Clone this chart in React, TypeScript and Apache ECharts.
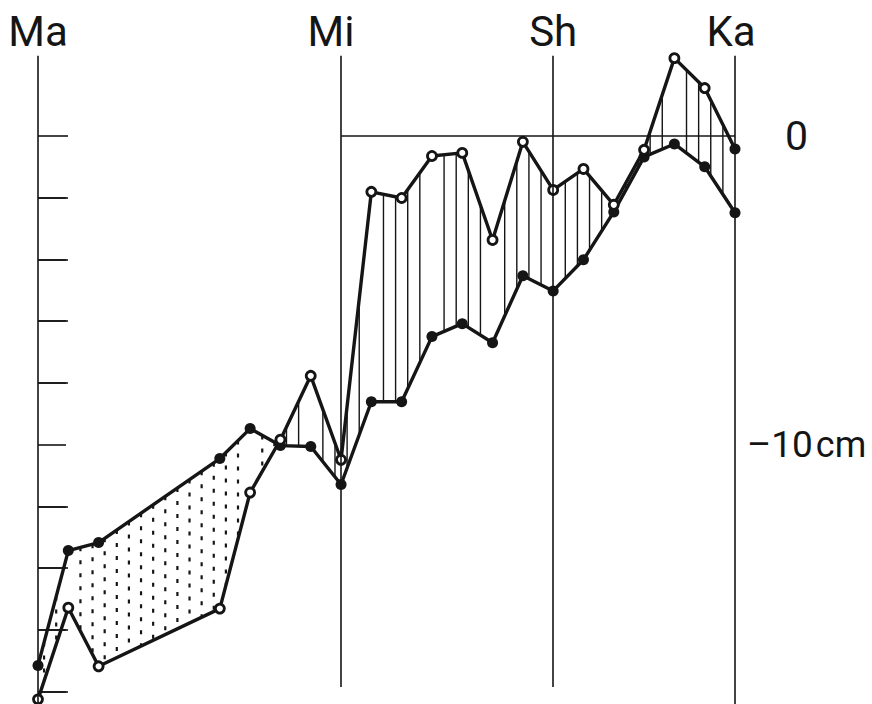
import React, { useEffect, useRef } from 'react';
import * as echarts from 'echarts';

// Stations (distance in station-spacing units along the profile)
const stationNames = ['Ma', 'Mi', 'Sh', 'Ka'];
const stationPos = [0, 10, 17, 23];
const stationLineBottom = [-18.4, -17.85, -17.85, -18.4];

// Benchmark positions and levels (cm)
const pointPos = [0, 1, 2, 6, 7, 8, 9, 10, 11, 12, 13, 14, 15, 16, 17, 18, 19, 20, 21, 22, 23];
const openLevels = [
  -18.25, -15.28, -17.18, -15.31, -11.55, -9.84, -7.77, -10.49, -1.81, -2.01, -0.65,
  -0.55, -3.37, -0.19, -1.75, -1.07, -2.23, -0.45, 2.52, 1.55, -0.42,
];
const filledLevels = [
  -17.15, -13.43, -13.17, -10.45, -9.48, -10.03, -10.06, -11.29, -8.61, -8.61, -6.5,
  -6.08, -6.7, -4.53, -5.02, -4.01, -2.46, -0.68, -0.26, -1.0, -2.49,
];

// Axis ticks and labels (cm)
const rightTickValues = [0, -2, -4, -6, -8, -12, -14, -16, -18];
const leftTickValues = [-2, -4, -6, -8, -10, -12, -14, -16, -18];
const labelValues = [0, -10];

const Y_MIN = -18.4;
const Y_MAX = 2.6;
const HATCH_STEP = 0.4;
const HATCH_OFFSET = 0.2;
const INK = '#151515';
const FONT = 'Roboto, "DejaVu Sans", sans-serif';

export default function App() {
  const ref = useRef<HTMLDivElement>(null);

  useEffect(() => {
    if (!ref.current) return;
    document.documentElement.style.overflow = 'hidden';
    document.body.style.margin = '0';
    document.body.style.overflow = 'hidden';
    const chart = echarts.init(ref.current, undefined, { renderer: 'svg', width: 872, height: 704 });

    const segments = pointPos.slice(0, -1).map((x, i) => [x, openLevels[i]]);

    const option: any = {
      animation: false,
      backgroundColor: '#ffffff',
      grid: { left: 38, right: 137, top: 55.66, bottom: 0, outerBoundsMode: 'none', containLabel: false },
      xAxis: {
        type: 'value',
        min: 0,
        max: 23,
        show: false,
      },
      yAxis: [
        {
          type: 'value',
          position: 'right',
          min: Y_MIN,
          max: Y_MAX,
          axisLine: { show: false },
          splitLine: { show: false },
          axisTick: {
            show: true,
            customValues: rightTickValues,
            length: 30,
            lineStyle: { color: INK, width: 1.6 },
          },
          axisLabel: {
            show: true,
            customValues: labelValues,
            margin: 12,
            color: INK,
            fontFamily: FONT,
            fontSize: 40,
            formatter: (v: number) => (v === 0 ? '{z|0}' : '{a|–10}{b|cm}'),
            rich: {
              z: { fontSize: 41, fontFamily: FONT, color: INK, padding: [0, 0, 0, 38] },
              a: { fontSize: 37, fontFamily: FONT, color: INK },
              b: { fontSize: 36, fontFamily: FONT, color: INK, padding: [0, 0, 0, 3] },
            },
          },
        },
        {
          type: 'value',
          position: 'left',
          min: Y_MIN,
          max: Y_MAX,
          axisLine: { show: false },
          splitLine: { show: false },
          axisLabel: { show: false },
          axisTick: {
            show: true,
            inside: true,
            customValues: leftTickValues,
            length: 28,
            lineStyle: { color: INK, width: 1.6 },
          },
        },
      ],
      series: [
        {
          type: 'custom',
          name: 'hatch',
          coordinateSystem: 'cartesian2d',
          silent: true,
          clip: false,
          z: 1,
          data: segments,
          renderItem: (params: any, api: any) => {
            const i = params.dataIndex;
            const x0 = pointPos[i];
            const x1 = pointPos[i + 1];
            const a0 = api.coord([x0, openLevels[i]]);
            const a1 = api.coord([x1, openLevels[i + 1]]);
            const b0 = api.coord([x0, filledLevels[i]]);
            const b1 = api.coord([x1, filledLevels[i + 1]]);
            const children: any[] = [];
            const kStart = Math.ceil((x0 - HATCH_OFFSET) / HATCH_STEP - 1e-9);
            for (let k = kStart; ; k++) {
              const hx = HATCH_OFFSET + k * HATCH_STEP;
              if (hx >= x1 - 1e-9) break;
              if (hx <= x0 + 1e-9) continue;
              const t = (hx - x0) / (x1 - x0);
              const px = api.coord([hx, 0])[0];
              const ya = a0[1] + t * (a1[1] - a0[1]);
              const yb = b0[1] + t * (b1[1] - b0[1]);
              const dotted = yb < ya;
              children.push({
                type: 'line',
                shape: { x1: px, y1: Math.min(ya, yb), x2: px, y2: Math.max(ya, yb) },
                style: dotted
                  ? { stroke: INK, lineWidth: 2.2, lineDash: [4, 9] }
                  : { stroke: INK, lineWidth: 1.4 },
              });
            }
            return { type: 'group', children };
          },
        },
        {
          type: 'line',
          name: 'filled',
          z: 3,
          data: pointPos.map((x, i) => [x, filledLevels[i]]),
          symbol: 'circle',
          symbolSize: 11,
          lineStyle: { color: INK, width: 3.4 },
          itemStyle: { color: INK },
          markLine: {
            silent: true,
            symbol: ['none', 'none'],
            animation: false,
            lineStyle: { color: INK, width: 1.6, type: 'solid' },
            label: { show: false },
            emphasis: { disabled: true },
            data: [
              ...stationPos.map((p, i) => [
                { coord: [p, stationLineBottom[i]] },
                {
                  coord: [p, Y_MAX],
                  label: {
                    show: true,
                    position: 'end',
                    distance: 3,
                    formatter: stationNames[i],
                    color: INK,
                    fontFamily: FONT,
                    fontSize: 42,
                    offset: i === 1 ? [-10, 0] : i === 3 ? [-4, 0] : [0, 0],
                  },
                },
              ]),
              [
                { coord: [stationPos[1], 0] },
                { coord: [stationPos[3], 0] },
              ],
            ],
          },
        },
        {
          type: 'line',
          name: 'open',
          z: 4,
          data: pointPos.map((x, i) =>
            i === pointPos.length - 1
              ? { value: [x, openLevels[i]], symbolSize: 11, itemStyle: { color: INK, borderWidth: 0 } }
              : [x, openLevels[i]]
          ),
          symbol: 'circle',
          symbolSize: 9,
          lineStyle: { color: INK, width: 3.4 },
          itemStyle: { color: '#ffffff', borderColor: INK, borderWidth: 2.8 },
        },
      ],
    };

    chart.setOption(option);
    return () => chart.dispose();
  }, []);

  return (
    <div
      ref={ref}
      style={{ position: 'absolute', left: 0, top: 0, width: 872, height: 704, background: '#fff' }}
    />
  );
}
